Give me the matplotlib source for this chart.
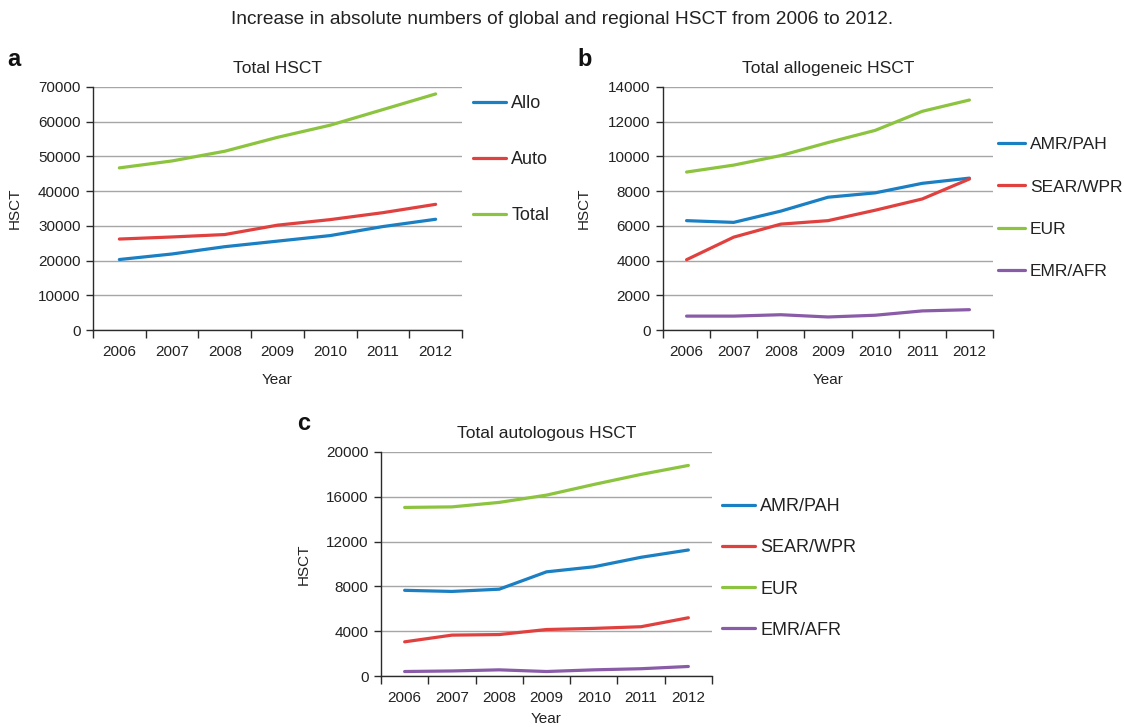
import matplotlib
matplotlib.use("Agg")
import matplotlib.pyplot as plt
from matplotlib.ticker import FixedLocator, NullFormatter, FixedFormatter

plt.rcParams['font.family'] = ['Liberation Sans', 'DejaVu Sans']

years = ["2006", "2007", "2008", "2009", "2010", "2011", "2012"]

# Panel a: Total HSCT
a_allo = [20300, 21900, 24000, 25600, 27200, 29800, 31900]
a_auto = [26200, 26800, 27500, 30200, 31800, 33800, 36200]
a_total = [46700, 48700, 51500, 55500, 59000, 63500, 68000]

# Panel b: Total allogeneic HSCT
b_amr = [6300, 6200, 6850, 7650, 7900, 8450, 8750]
b_sear = [4050, 5350, 6100, 6300, 6900, 7550, 8700]
b_eur = [9100, 9500, 10050, 10800, 11500, 12600, 13250]
b_emr = [800, 800, 880, 750, 850, 1100, 1170]

# Panel c: Total autologous HSCT
c_amr = [7650, 7550, 7750, 9300, 9750, 10600, 11250]
c_sear = [3050, 3650, 3700, 4150, 4250, 4400, 5200]
c_eur = [15050, 15100, 15500, 16150, 17100, 18000, 18800]
c_emr = [400, 450, 550, 400, 550, 650, 850]

BLUE = "#1b7fc3"
RED = "#e0413f"
GREEN = "#8cc43f"
PURPLE = "#8a5ca8"
GRID = "#a6a6a6"
AX = "#2b2b2b"
TXT = "#222222"
FS = 11
LFS = 13
TFS = 12.5

W, H = 1124, 727
fig = plt.figure(figsize=(W / 100, H / 100), dpi=100)


def px_axes(l, r, t, b):
    return fig.add_axes([l / W, 1 - b / H, (r - l) / W, (b - t) / H])


def style(ax, ymax, ystep):
    n = len(years)
    ax.set_xlim(-0.5, n - 0.5)
    ax.set_ylim(0, ymax)
    ax.xaxis.set_major_locator(FixedLocator([i - 0.5 for i in range(n + 1)]))
    ax.xaxis.set_major_formatter(NullFormatter())
    ax.xaxis.set_minor_locator(FixedLocator(list(range(n))))
    ax.xaxis.set_minor_formatter(FixedFormatter(years))
    ax.tick_params(axis='x', which='major', direction='out', length=6, width=1, color=AX)
    ax.tick_params(axis='x', which='minor', length=0, pad=11, labelsize=FS, labelcolor=TXT)
    ax.set_yticks(list(range(0, ymax + 1, ystep)))
    ax.tick_params(axis='y', direction='out', length=5, width=1, color=AX, labelsize=FS,
                   labelcolor=TXT, pad=4)
    ax.yaxis.grid(True, color=GRID, linewidth=1)
    ax.set_axisbelow(True)
    for s in ['top', 'right']:
        ax.spines[s].set_visible(False)
    for s in ['left', 'bottom']:
        ax.spines[s].set_color(AX)
        ax.spines[s].set_linewidth(1)
    ax.set_xlabel("Year", fontsize=FS, color=TXT, labelpad=10)
    ax.set_ylabel("HSCT", fontsize=FS, color=TXT)


def legend(ax, x_px, yc_px, spacing, fs=LFS, handle_px=33, pad_px=5.4):
    fpx = fs * 100 / 72
    ax.legend(loc='center left', bbox_to_anchor=(x_px / W, 1 - yc_px / H),
              bbox_transform=fig.transFigure, frameon=False, fontsize=fs,
              handlelength=handle_px / fpx, handletextpad=pad_px / fpx,
              labelspacing=spacing, borderpad=0, borderaxespad=0, labelcolor=TXT)


LW = 2.3
x = list(range(len(years)))

# Panel a
ax1 = px_axes(93, 462, 87, 330)
ax1.plot(x, a_allo, color=BLUE, lw=LW, label="Allo", solid_capstyle='round')
ax1.plot(x, a_auto, color=RED, lw=LW, label="Auto", solid_capstyle='round')
ax1.plot(x, a_total, color=GREEN, lw=LW, label="Total", solid_capstyle='round')
style(ax1, 70000, 10000)
ax1.set_title("Total HSCT", fontsize=TFS, color=TXT, pad=10)
ax1.yaxis.set_label_coords(-71 / 369, 0.5)
legend(ax1, 473, 160, 2.16)

# Panel b
ax2 = px_axes(663, 993, 87, 330)
ax2.plot(x, b_amr, color=BLUE, lw=LW, label="AMR/PAH", solid_capstyle='round')
ax2.plot(x, b_sear, color=RED, lw=LW, label="SEAR/WPR", solid_capstyle='round')
ax2.plot(x, b_eur, color=GREEN, lw=LW, label="EUR", solid_capstyle='round')
ax2.plot(x, b_emr, color=PURPLE, lw=LW, label="EMR/AFR", solid_capstyle='round')
style(ax2, 14000, 2000)
ax2.set_title("Total allogeneic HSCT", fontsize=TFS, color=TXT, pad=10)
ax2.yaxis.set_label_coords(-72 / 330, 0.5)
legend(ax2, 998, 208, 1.55, fs=12.5, handle_px=27, pad_px=5)

# Panel c
ax3 = px_axes(381, 712, 452, 676)
ax3.plot(x, c_amr, color=BLUE, lw=LW, label="AMR/PAH", solid_capstyle='round')
ax3.plot(x, c_sear, color=RED, lw=LW, label="SEAR/WPR", solid_capstyle='round')
ax3.plot(x, c_eur, color=GREEN, lw=LW, label="EUR", solid_capstyle='round')
ax3.plot(x, c_emr, color=PURPLE, lw=LW, label="EMR/AFR", solid_capstyle='round')
style(ax3, 20000, 4000)
ax3.set_title("Total autologous HSCT", fontsize=TFS, color=TXT, pad=10)
ax3.yaxis.set_label_coords(-70 / 331, 0.5)
ax3.xaxis.labelpad = 5
legend(ax3, 722, 568.5, 1.33)

# Figure title and panel letters
fig.text(562 / W, 1 - 20 / H, "Increase in absolute numbers of global and regional HSCT from 2006 to 2012.",
         ha='center', va='center', fontsize=13.8, color=TXT)
fig.text(7 / W, 1 - 60 / H, "a", ha='left', va='center', fontsize=17, fontweight='bold', color='#111111')
fig.text(577 / W, 1 - 60 / H, "b", ha='left', va='center', fontsize=17, fontweight='bold', color='#111111')
fig.text(297 / W, 1 - 423 / H, "c", ha='left', va='center', fontsize=17, fontweight='bold', color='#111111')

fig.savefig("out.png", dpi=100)
